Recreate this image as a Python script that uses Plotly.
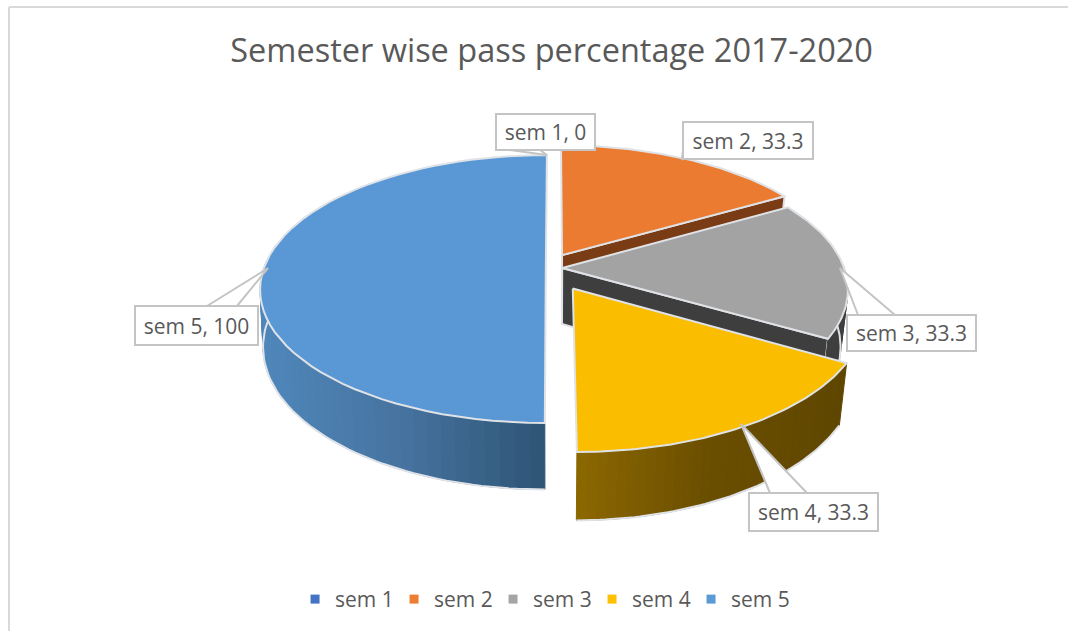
import math
import plotly.graph_objects as go

# ---- data ----
categories = ["sem 1", "sem 2", "sem 3", "sem 4", "sem 5"]
values = [0, 33.3, 33.3, 33.3, 100]
title_text = "Semester wise pass percentage 2017-2020"

# ---- style ----
top_colors = ["#4472c4", "#ea7b30", "#a3a3a3", "#fbbd00", "#5997d5"]
legend_colors = ["#4472c4", "#ed7d31", "#a5a5a5", "#ffc000", "#5b9bd5"]
offsets = [(-0.029, 0.0), (0.029, 0.1), (0.029, 0.0), (0.065, -0.153), (-0.029, 0.0)]
shrinks = [0.975, 0.975, 0.975, 0.975, 0.99]
label_boxes = [(496, 114, 595, 150), (683, 122, 813, 159), (847, 315, 976, 351),
               (749, 493, 878, 531), (135, 306, 258, 345)]
pointer_bases = [((510, 150), (540, 150)), ((683, 150), (683, 159)), ((858, 315), (895, 315)),
                 ((770, 493), (807, 493)), ((207, 306), (237, 306))]
CX, CY, A, B, K, H = 554.0, 268.0, 282.0, 130.7, 0.157, 56.0
EDGE = "#dfe2e6"
TXT = "#595959"
FONT = "Open Sans"
SHRINK = shrinks[0]


def project(X, Y, down=False):
    w = 1 + K * Y
    sx = CX + A * X / w
    sy = CY - B * Y / w
    if down:
        sx = CX + (sx - CX) * SHRINK
        sy += H / w
    return sx, sy


def world(theta_deg, off, r=1.0):
    t = math.radians(theta_deg)
    return off[0] + r * math.sin(t), off[1] + r * math.cos(t)


def mix(c1, c2, f):
    a = [int(c1[i:i + 2], 16) for i in (1, 3, 5)]
    b = [int(c2[i:i + 2], 16) for i in (1, 3, 5)]
    return "#%02x%02x%02x" % tuple(round(a[i] + (b[i] - a[i]) * f) for i in range(3))


fig = go.Figure()


def poly(pts, fill, line=EDGE, lw=2):
    fig.add_trace(go.Scatter(
        x=[p[0] for p in pts], y=[p[1] for p in pts], mode="lines", fill="toself",
        fillcolor=fill, line=dict(color=line, width=lw), showlegend=False, hoverinfo="skip"))


def arc(a0, a1, off, down=False, n=60):
    return [project(*world(a0 + (a1 - a0) * i / n, off), down) for i in range(n + 1)]


def radial_face(theta, off, color):
    ap = project(off[0], off[1])
    apd = project(off[0], off[1], True)
    e = project(*world(theta, off))
    ed = project(*world(theta, off), True)
    poly([ap, e, ed, apd, ap], color)


def side(a0, a1, off, c_left, c_mid, c_right, n=36):
    # outer wall as vertical strips, shaded across the screen
    xs = [project(*world(a0 + (a1 - a0) * i / n, off))[0] for i in range(n + 1)]
    lo, hi = min(xs), max(xs)
    for i in range(n):
        u0 = a0 + (a1 - a0) * i / n
        u1 = a0 + (a1 - a0) * (i + 1) / n
        q = arc(u0, u1, off, False, 3) + arc(u1, u0, off, True, 3)
        f = (0.5 * (xs[i] + xs[i + 1]) - lo) / (hi - lo)
        col = mix(c_left, c_mid, f * 2) if f < 0.5 else mix(c_mid, c_right, f * 2 - 1)
        poly(q + [q[0]], col, col, 1)
    outline = arc(a0, a1, off, True)
    fig.add_trace(go.Scatter(x=[p[0] for p in outline], y=[p[1] for p in outline], mode="lines",
                             line=dict(color=EDGE, width=2), showlegend=False, hoverinfo="skip"))


def top(a0, a1, off, color):
    ap = project(off[0], off[1])
    poly([ap] + arc(a0, a1, off) + [ap], color)


# slice angles from the values, clockwise from 12 o'clock
total = sum(values)
starts, ends, acc = [], [], 0.0
for v in values:
    starts.append(acc / total * 360)
    acc += v
    ends.append(acc / total * 360)

# border of the chart area
fig.add_shape(type="line", x0=9, x1=9, y0=7, y1=631, line=dict(color="#d9d9d9", width=2))
fig.add_shape(type="line", x0=9, x1=1068, y0=7, y1=7, line=dict(color="#d9d9d9", width=2))

# painter's order: far to near
radial_face(ends[1], offsets[1], "#7a3c14")
top(starts[1], ends[1], offsets[1], top_colors[1])

radial_face(ends[2], offsets[2], "#3e3e3e")
side(starts[2] + 25, ends[2], offsets[2], "#3e3e3e", "#3e3e3e", "#3e3e3e", n=8)
top(starts[2], ends[2], offsets[2], top_colors[2])

side(starts[3], ends[3], offsets[3], "#8c6800", "#6a4e00", "#5f4600")
top(starts[3], ends[3], offsets[3], top_colors[3])

SHRINK = shrinks[4]
side(starts[4], starts[4] + 95, offsets[4], "#4f87bb", "#46739f", "#2e5475")
top(starts[4], ends[4], offsets[4], top_colors[4])

# label pointers, tip at the middle of each slice's outer edge
for i, cat in enumerate(categories):
    mid = (starts[i] + ends[i]) / 2
    off = offsets[i] if values[i] > 0 else offsets[4]
    tip = project(*world(mid, off, 0.985 if values[i] > 0 else 1.0))
    b0, b1 = pointer_bases[i]
    poly([b0, tip, b1], "#ffffff", "#c4c4c4", 2)
    x0, y0, x1, y1 = label_boxes[i]
    fig.add_annotation(x=(x0 + x1) / 2, y=(y0 + y1) / 2, xref="x", yref="y",
                       text=f"{cat}, {values[i]:g}", showarrow=False,
                       width=x1 - x0 - 2, height=y1 - y0 - 2, align="center", valign="middle",
                       bgcolor="#ffffff", bordercolor="#c4c4c4", borderwidth=2, borderpad=0,
                       font=dict(family=FONT, size=21, color=TXT))

# legend
for cat, col in zip(categories, legend_colors):
    fig.add_trace(go.Scatter(x=[None], y=[None], mode="markers", name=cat,
                             marker=dict(symbol="square", size=9, color=col)))

fig.update_layout(
    width=1068, height=631, margin=dict(l=0, r=0, t=0, b=0),
    paper_bgcolor="#ffffff", plot_bgcolor="#ffffff",
    title=dict(text=title_text, x=0.5165, xanchor="center", y=0.92, yanchor="middle",
               font=dict(family=FONT, size=32.5, color=TXT)),
    xaxis=dict(range=[0, 1068], visible=False, fixedrange=True),
    yaxis=dict(range=[631, 0], visible=False, fixedrange=True),
    legend=dict(orientation="h", x=0.508, xanchor="center", y=0.05, yanchor="middle",
                font=dict(family=FONT, size=21, color=TXT), itemwidth=30,
                entrywidth=54, entrywidthmode="pixels",
                bgcolor="rgba(0,0,0,0)", traceorder="normal"),
)
fig.write_html("out.html", config={"displayModeBar": False},
               post_script="document.body.style.margin='0';document.body.style.overflow='hidden';")
